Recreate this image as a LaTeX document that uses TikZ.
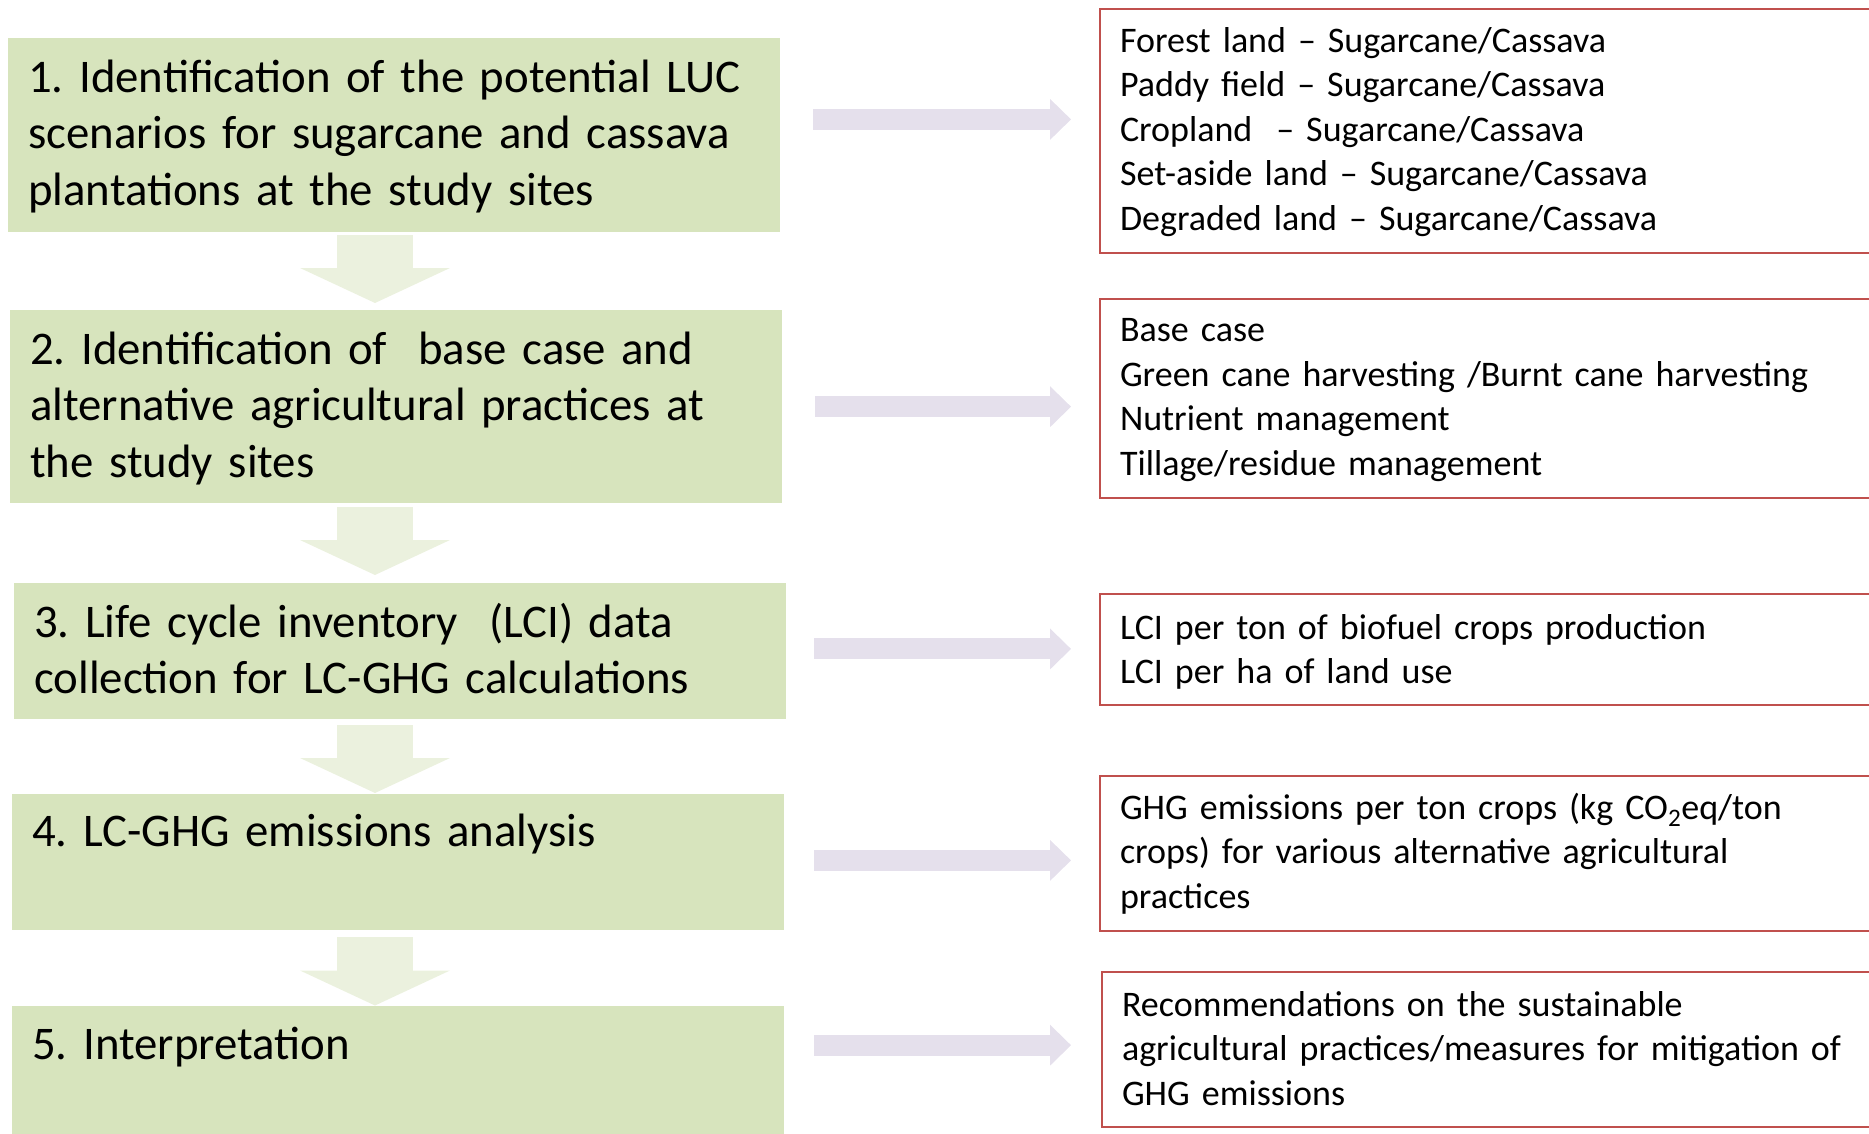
\documentclass[tikz,border=0pt]{standalone}
\usepackage{fontspec}
\setmainfont{Carlito}
\frenchspacing
\usetikzlibrary{arrows.meta}
\definecolor{stepgreen}{HTML}{D7E4BD}
\definecolor{arrowgreen}{HTML}{EBF1DE}
\definecolor{arrowlilac}{HTML}{E5E0EC}
\definecolor{outred}{HTML}{C0504D}
\begin{document}
\begin{tikzpicture}[x=1pt, y=-1pt,
  stepbox/.style={fill=stepgreen, anchor=north west, inner xsep=20pt, inner ysep=0pt,
    text width=732pt, align=left, font=\fontsize{46.8}{56.6}\selectfont},
  outbox/.style={draw=outred, line width=2pt, anchor=north west, inner xsep=20pt, inner ysep=0pt,
    text width=741pt, align=left, font=\fontsize{36}{44.5}\selectfont},
  dnarrow/.style={draw=arrowgreen, line width=76pt, -{Triangle[length=35pt, width=150pt, line width=0pt]}},
  rtarrow/.style={draw=arrowlilac, line width=21pt, -{Triangle[length=21pt, width=41pt, line width=0pt]}}]
\useasboundingbox (0,0) rectangle (1869,1134);

% Steps
\node[stepbox, text height=54pt, text depth=140pt] (s1) at (8,38) {1. Identification of the potential LUC\\scenarios for sugarcane and cassava\\plantations at the study sites};
\node[stepbox, text height=54pt, text depth=139pt] (s2) at (10,310) {2. Identification of~ base case and\\alternative agricultural practices at\\the study sites};
\node[stepbox, text height=54pt, text depth=81.5pt] (s3) at (14,583) {3. Life cycle inventory~ (LCI) data\\collection for LC-GHG calculations};
\node[stepbox, text height=53pt, text depth=83pt] (s4) at (12,793.5) {4. LC-GHG emissions analysis};
\node[stepbox, text height=53.6pt, text depth=82.4pt] (s5) at (12,1006) {5. Interpretation};

% Outputs
\node[outbox, text height=43.4pt, text depth=201.1pt] (o1) at (1099,8) {Forest land -- Sugarcane/Cassava\\Paddy field -- Sugarcane/Cassava\\Cropland~ -- Sugarcane/Cassava\\Set-aside land -- Sugarcane/Cassava\\Degraded land -- Sugarcane/Cassava};
\node[outbox, text height=43.1pt, text depth=155.9pt] (o2) at (1099,297.5) {Base case\\Green cane harvesting /Burnt cane harvesting\\Nutrient management\\Tillage/residue management};
\node[outbox, text height=45pt, text depth=65.5pt] (o3) at (1099,593) {LCI per ton of biofuel crops production\\LCI per ha of land use};
\node[outbox, text height=43pt, text depth=111.7pt] (o4) at (1099,775) {GHG emissions per ton crops (kg CO\textsubscript{2}eq/ton\\crops) for various alternative agricultural\\practices};
\node[outbox, text height=44pt, text depth=110.5pt] (o5) at (1101,971) {Recommendations on the sustainable\\agricultural practices/measures for mitigation of\\GHG emissions};

% Down arrows
\coordinate (ax) at (375,0);
\draw[dnarrow, shorten <=2.5pt, shorten >=7pt] (s1.south -| ax) -- (s2.north -| ax);
\draw[dnarrow, shorten <=3.5pt, shorten >=8pt] (s2.south -| ax) -- (s3.north -| ax);
\draw[dnarrow, shorten <=6.5pt, shorten >=0.5pt] (s3.south -| ax) -- (s4.north -| ax);
\draw[dnarrow, shorten <=7.3pt, shorten >=0.5pt] (s4.south -| ax) -- (s5.north -| ax);

% Right arrows
\draw[rtarrow, shorten <=33pt, shorten >=28pt] ([yshift=15.8pt]s1.east) -- ([yshift=15.8pt]s1.east -| o1.west);
\draw[rtarrow, shorten <=33pt, shorten >=28pt] (s2.east) -- (s2.east -| o2.west);
\draw[rtarrow, shorten <=28pt, shorten >=28pt] ([yshift=2pt]s3.east) -- ([yshift=2pt]s3.east -| o3.west);
\draw[rtarrow, shorten <=30pt, shorten >=28pt] ([yshift=1.3pt]s4.east) -- ([yshift=1.3pt]s4.east -| o4.west);
\draw[rtarrow, shorten <=30pt, shorten >=30pt] ([yshift=29pt]s5.east) -- ([yshift=29pt]s5.east -| o5.west);
\end{tikzpicture}
\end{document}
